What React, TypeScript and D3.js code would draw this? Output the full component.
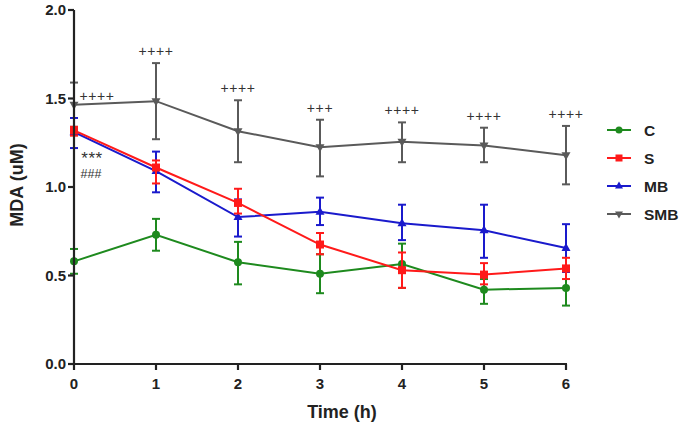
import React from "react";
import * as d3 from "d3";

const times = [0, 1, 2, 3, 4, 5, 6];
const seriesNames = ["C", "S", "MB", "SMB"];
const cMean = [0.58, 0.73, 0.575, 0.51, 0.565, 0.42, 0.43];
const cUpper = [0.65, 0.82, 0.69, 0.62, 0.68, 0.48, 0.53];
const cLower = [0.51, 0.64, 0.45, 0.40, 0.43, 0.34, 0.33];
const sMean = [1.32, 1.11, 0.91, 0.675, 0.53, 0.505, 0.54];
const sUpper = [1.34, 1.15, 0.99, 0.74, 0.63, 0.57, 0.60];
const sLower = [1.29, 1.02, 0.85, 0.62, 0.43, 0.45, 0.48];
const mbMean = [1.31, 1.09, 0.83, 0.86, 0.795, 0.755, 0.655];
const mbUpper = [1.39, 1.20, 0.93, 0.94, 0.90, 0.90, 0.79];
const mbLower = [1.22, 0.97, 0.72, 0.785, 0.70, 0.60, 0.52];
const smbMean = [1.465, 1.485, 1.315, 1.225, 1.255, 1.235, 1.18];
const smbUpper = [1.59, 1.70, 1.49, 1.38, 1.365, 1.335, 1.345];
const smbLower = [1.34, 1.27, 1.14, 1.06, 1.14, 1.14, 1.015];
const smbMarks = ["++++", "++++", "++++", "+++", "++++", "++++", "++++"];
const yTicks = [0, 0.5, 1.0, 1.5, 2.0];

const colors = ["#1e8a1e", "#ff1a1a", "#1a1acc", "#5a5a5a"];
const shapes = ["circle", "square", "triUp", "triDown"];

function Marker({ shape, x, y, color, s = 4 }: any) {
  if (shape === "circle") return <circle cx={x} cy={y} r={s} fill={color} />;
  if (shape === "square") return <rect x={x - s} y={y - s} width={2 * s} height={2 * s} fill={color} />;
  if (shape === "triUp")
    return <path d={`M${x},${y - s - 1}L${x + s + 0.5},${y + s - 1}L${x - s - 0.5},${y + s - 1}Z`} fill={color} />;
  return <path d={`M${x},${y + s + 1}L${x + s + 0.5},${y - s + 1}L${x - s - 0.5},${y - s + 1}Z`} fill={color} />;
}

export default function App() {
  const W = 681, H = 429;
  const x = d3.scaleLinear().domain([0, 6]).range([74, 566]);
  const y = d3.scaleLinear().domain([0, 2]).range([364, 10]);
  const series = [
    { mean: cMean, up: cUpper, lo: cLower },
    { mean: sMean, up: sUpper, lo: sLower },
    { mean: mbMean, up: mbUpper, lo: mbLower },
    { mean: smbMean, up: smbUpper, lo: smbLower },
  ];
  const line = d3.line<number>().x((_, i) => x(times[i])).y((d) => y(d));
  const font = "Arial, 'Liberation Sans', sans-serif";
  const order = [3, 0, 2, 1];
  return (
    <svg width={W} height={H} style={{ position: "absolute", left: 0, top: 0 }} fontFamily={font}>
      <rect width={W} height={H} fill="white" />
      {order.map((si) => {
        const s = series[si];
        const col = colors[si];
        return (
          <g key={si}>
            {times.map((t, i) => (
              <g key={i} stroke={col} strokeWidth={2}>
                <line x1={x(t)} x2={x(t)} y1={y(s.up[i])} y2={y(s.lo[i])} />
                <line x1={x(t) - 4} x2={x(t) + 4} y1={y(s.up[i])} y2={y(s.up[i])} />
                <line x1={x(t) - 4} x2={x(t) + 4} y1={y(s.lo[i])} y2={y(s.lo[i])} />
              </g>
            ))}
            <path d={line(s.mean) || ""} fill="none" stroke={col} strokeWidth={2} />
            {times.map((t, i) => (
              <Marker key={i} shape={shapes[si]} x={x(t)} y={y(s.mean[i])} color={col} />
            ))}
          </g>
        );
      })}
      {/* axes */}
      <g stroke="#222" strokeWidth={2.2}>
        <line x1={74} x2={74} y1={y(2)} y2={y(0) + 1} />
        <line x1={73} x2={x(6) + 1} y1={y(0)} y2={y(0)} />
        {yTicks.map((v) => (
          <line key={v} x1={68} x2={74} y1={y(v)} y2={y(v)} />
        ))}
        {times.map((t) => (
          <line key={t} x1={x(t)} x2={x(t)} y1={y(0)} y2={y(0) + 6} />
        ))}
      </g>
      {yTicks.map((v) => (
        <text key={v} x={66} y={y(v)} dy="0.36em" textAnchor="end" fontSize={15} fontWeight="bold" fill="#222">
          {v.toFixed(1)}
        </text>
      ))}
      {times.map((t) => (
        <text key={t} x={x(t)} y={389} textAnchor="middle" fontSize={15} fontWeight="bold" fill="#222">
          {t}
        </text>
      ))}
      <text x={342} y={418} textAnchor="middle" fontSize={18} fontWeight="bold" fill="#222">Time (h)</text>
      <text transform={`translate(23,185) rotate(-90)`} textAnchor="middle" fontSize={18} fontWeight="bold" fill="#222">
        MDA (uM)
      </text>
      {/* significance marks */}
      {times.map((t, i) => (
        <text key={i} x={i === 0 ? x(t) + 23 : x(t)} y={i === 0 ? y(smbMean[0]) - 4 : y(smbUpper[i]) - 7}
          textAnchor="middle" fontSize={14} fill="#333" letterSpacing={0.6}>
          {smbMarks[i]}
        </text>
      ))}
      <text x={92} y={164} textAnchor="middle" fontSize={17} fill="#333" letterSpacing={0.5}>***</text>
      <text x={91} y={178} textAnchor="middle" fontSize={12.5} fill="#333">###</text>
      {/* legend */}
      {seriesNames.map((n, i) => {
        const ly = 130 + i * 28;
        return (
          <g key={n}>
            <line x1={607} x2={631} y1={ly} y2={ly} stroke={colors[i]} strokeWidth={2} />
            <Marker shape={shapes[i]} x={619} y={ly} color={colors[i]} s={3.5} />
            <text x={644} y={ly} dy="0.36em" fontSize={15.5} fontWeight="bold" fill="#222">{n}</text>
          </g>
        );
      })}
    </svg>
  );
}
